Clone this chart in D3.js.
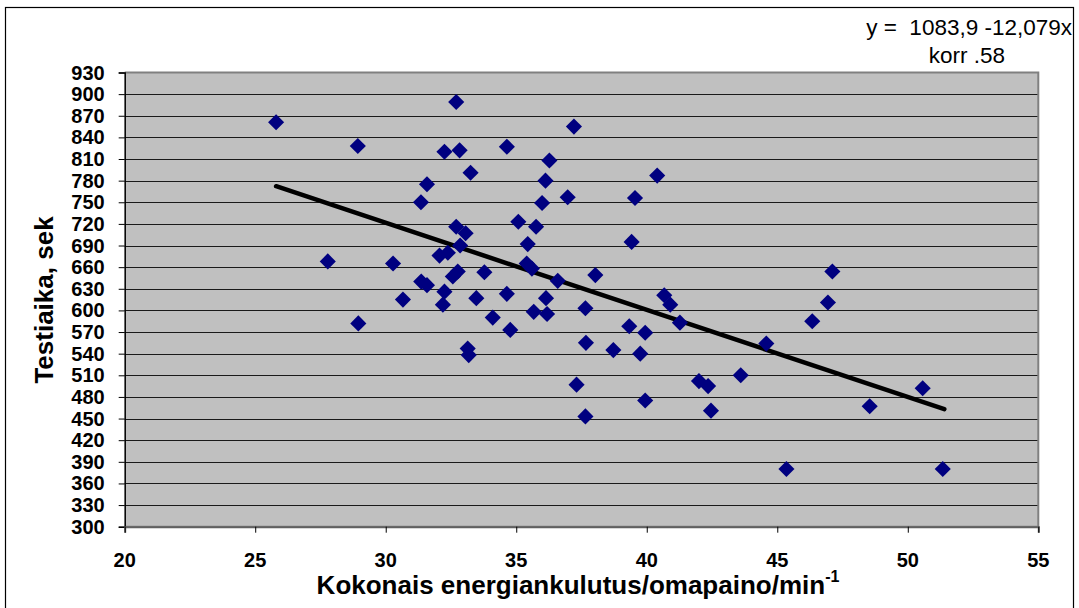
<!DOCTYPE html>
<html>
<head>
<meta charset="utf-8">
<script src="https://cdn.jsdelivr.net/npm/d3@7"></script>
<style>
  body { margin: 0; background: #fff; }
  svg { display: block; font-family: Arial, "Liberation Sans", sans-serif; }
  .tick-label { font-family: Arial, "Liberation Sans", sans-serif; font-weight: bold; font-size: 20px; fill: #000; }
</style>
</head>
<body>
<div id="viz"></div>
<script>
// Testiaika vs. energiankulutus — scatter + linear fit

const energy = [
  25.8, 27.78, 28.93, 28.95, 30.28, 30.66, 31.35, 31.58, 31.36, 31.58,
  32.25, 32.06, 32.38, 32.25, 32.19, 32.7, 32.83, 32.7, 32.57, 32.76,
  33.06, 32.85, 33.25, 33.78, 33.47, 34.64, 34.64, 34.1, 34.77, 33.14,
  33.18, 35.08, 35.76, 35.44, 35.4, 35.6, 36.27, 35.99, 36.12, 36.97,
  37.21, 36.59, 36.14, 35.67, 36.18, 38.03, 37.65, 37.67, 37.31, 37.65,
  38.72, 39.33, 39.94, 39.75, 39.94, 39.42, 39.55, 40.4, 40.67, 40.9,
  41.27, 42.0, 42.35, 42.46, 43.6, 44.58, 45.35, 46.34, 46.94, 47.11,
  48.54, 50.57, 51.34
];
const testTime = [
  861, 668, 828, 582, 665, 615, 750, 775, 640, 635,
  820, 676, 680, 626, 608, 889, 822, 716, 647, 654,
  707, 690, 791, 653, 617, 827, 623, 590, 573, 547,
  538, 723, 716, 692, 665, 658, 808, 749, 780, 757,
  855, 641, 617, 598, 595, 649, 603, 555, 497, 453,
  545, 578, 569, 540, 475, 695, 756, 787, 621, 608,
  583, 502, 495, 461, 510, 554, 380, 585, 611, 654,
  467, 492, 380
];

const xTicks = [20, 25, 30, 35, 40, 45, 50, 55];
const yTicks = d3.range(300, 931, 30);
const fit = { a: 1083.9, b: -12.079, from: 25.8, to: 51.4 };

const width = 1079, height = 608;
const plot = { left: 124.7, right: 1038.3, top: 72.5, bottom: 526.7 };

const svg = d3.select("#viz").append("svg")
  .attr("width", width).attr("height", height);

// outer frame
svg.append("rect")
  .attr("x", 5.5).attr("y", 7.5)
  .attr("width", 1068).attr("height", 610)
  .attr("fill", "#fff").attr("stroke", "#000").attr("stroke-width", 1.2);

const x = d3.scaleLinear().domain([20, 55]).range([plot.left, plot.right]);
const y = d3.scaleLinear().domain([300, 930]).range([plot.bottom, plot.top]);

// plot area
svg.append("rect")
  .attr("x", plot.left).attr("y", plot.top)
  .attr("width", plot.right - plot.left).attr("height", plot.bottom - plot.top)
  .attr("fill", "#c0c0c0");

// gridlines
svg.append("g")
  .selectAll("line")
  .data(yTicks.slice(1, -1))
  .enter().append("line")
  .attr("x1", plot.left).attr("x2", plot.right)
  .attr("y1", d => Math.round(y(d)) + 0.5).attr("y2", d => Math.round(y(d)) + 0.5)
  .attr("stroke", "#1a1a1a").attr("stroke-width", 1);

// plot border top/right/bottom
svg.append("path")
  .attr("d", `M${plot.left},${plot.top} H${plot.right} V${plot.bottom} H${plot.left}`)
  .attr("fill", "none").attr("stroke", "#808080").attr("stroke-width", 2);

// axes (lines + ticks from d3.axis, labels drawn separately)
const yAxis = svg.append("g")
  .attr("transform", `translate(${plot.left},0)`)
  .call(d3.axisLeft(y).tickValues(yTicks).tickSize(6).tickFormat(""));
const xAxis = svg.append("g")
  .attr("transform", `translate(0,${plot.bottom})`)
  .call(d3.axisBottom(x).tickValues(xTicks).tickSize(6).tickFormat(""));

[yAxis, xAxis].forEach(g => {
  g.select(".domain").attr("stroke", "#000").attr("stroke-width", 1.5);
  g.selectAll(".tick line").attr("stroke", "#000");
});
xAxis.select(".domain").attr("stroke", "#606060").attr("stroke-width", 2);

svg.append("g")
  .selectAll("text")
  .data(yTicks)
  .enter().append("text")
  .attr("class", "tick-label")
  .attr("x", plot.left - 20)
  .attr("y", d => y(d) + 7)
  .attr("text-anchor", "end")
  .text(d => d);

svg.append("g")
  .selectAll("text")
  .data(xTicks)
  .enter().append("text")
  .attr("class", "tick-label")
  .attr("x", d => x(d))
  .attr("y", 567)
  .attr("text-anchor", "middle")
  .text(d => d);

// regression line
svg.append("line")
  .attr("x1", x(fit.from)).attr("y1", y(fit.a + fit.b * fit.from))
  .attr("x2", x(fit.to)).attr("y2", y(fit.a + fit.b * fit.to))
  .attr("stroke", "#000").attr("stroke-width", 4.5).attr("stroke-linecap", "round");

// points
const pts = energy.map((e, i) => ({ e, t: testTime[i] }));
const diamond = d3.symbol(d3.symbolSquare, 130);
svg.append("g")
  .selectAll("path")
  .data(pts)
  .enter().append("path")
  .attr("d", diamond)
  .attr("transform", d => `translate(${x(d.e)},${y(d.t)}) rotate(45)`)
  .attr("fill", "#000080");

// axis titles
svg.append("text")
  .attr("transform", "translate(53,300) rotate(-90)")
  .attr("text-anchor", "middle")
  .style("font-weight", "bold").style("font-size", "26px")
  .text("Testiaika, sek");

const xt = svg.append("text")
  .attr("x", 578).attr("y", 594)
  .attr("text-anchor", "middle")
  .style("font-weight", "bold").style("font-size", "26px")
  .text("Kokonais energiankulutus/omapaino/min");
xt.append("tspan")
  .attr("dy", -12).style("font-size", "16px")
  .text("-1");

// equation annotation
svg.append("text")
  .attr("x", 1072).attr("y", 35)
  .attr("text-anchor", "end")
  .style("font-size", "22.5px")
  .attr("xml:space", "preserve")
  .text("y =  1083,9 -12,079x");
svg.append("text")
  .attr("x", 967).attr("y", 63)
  .attr("text-anchor", "middle")
  .style("font-size", "22.5px")
  .text("korr .58");
</script>
</body>
</html>
